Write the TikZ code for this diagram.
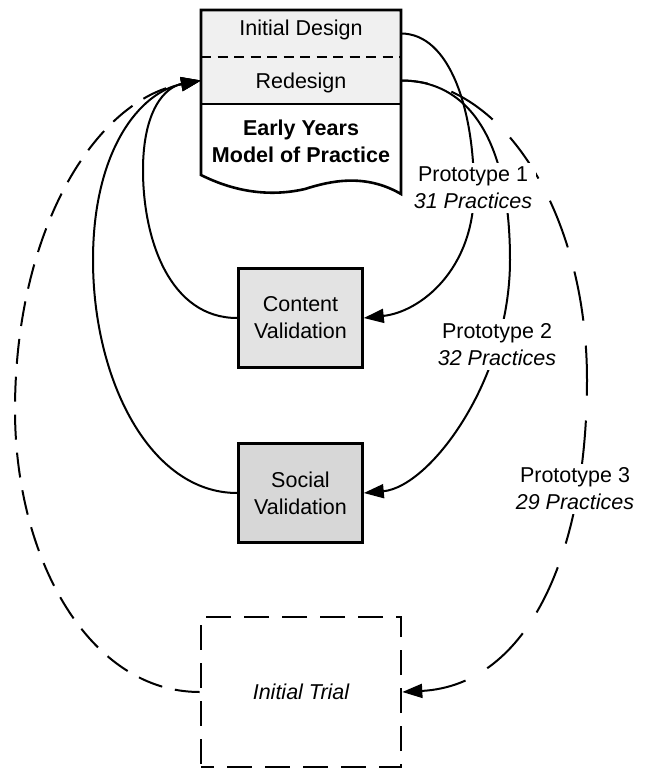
\documentclass[tikz,border=0pt]{standalone}
\usepackage{fontspec}
\setmainfont{Liberation Sans}
\usetikzlibrary{arrows.meta}
\definecolor{secfill}{HTML}{F0F0F0}
\definecolor{cvfill}{HTML}{E3E3E3}
\definecolor{svfill}{HTML}{D7D7D7}
\begin{document}
\begin{tikzpicture}[x=1pt,y=-1pt,
  every node/.style={font=\fontsize{21.5}{27}\selectfont},
  conn/.style={line width=2pt,-{Triangle[length=20pt,width=14pt]}},
  longdash/.style={dash pattern=on 50pt off 25pt},
  shortdash/.style={dash pattern=on 25pt off 13pt},
  secbox/.style={rectangle,fill=secfill,minimum width=200pt,minimum height=47pt,inner sep=0pt,outer sep=0pt},
  valbox/.style={rectangle,draw=black,line width=2.6pt,minimum width=124pt,minimum height=99pt,align=center,inner sep=0pt},
  plabel/.style={fill=white,align=center,inner sep=4pt},
  doctext/.style={anchor=base,inner sep=0pt}]
\useasboundingbox (0,0) rectangle (647,769);
% document shape
\node[secbox] (init) at (301,33.5) {};
\node[secbox] (redes) at (301,80.5) {};
\draw[line width=2.6pt,dash pattern=on 10pt off 6.5pt] (init.south west) -- (init.south east);
\draw[line width=2pt] (redes.south west) -- (redes.south east);
\node[doctext] (tInit) at (301,35) {Initial Design};
\node[doctext] (tRedes) at (301,88) {Redesign};
\node[doctext,font=\fontsize{21.5}{27}\selectfont\bfseries] (tEarly) at (301,135) {Early Years};
\node[doctext,font=\fontsize{21.5}{27}\selectfont\bfseries] (tModel) at (301,162) {Model of Practice};
% boxes
\node[valbox,fill=cvfill] (cv) at (300.5,318) {Content\\Validation};
\node[valbox,fill=svfill] (sv) at (300.5,493) {Social\\Validation};
\node[rectangle,draw=black,line width=2.6pt,shortdash,dash phase=12pt,minimum width=200pt,minimum height=150pt,inner sep=0pt,font=\fontsize{21.5}{27}\selectfont\itshape] (trial) at (301,692) {Initial Trial};
% connectors right
\draw[conn] (init.east) .. controls (450,33.5) and (474,110) .. (474,190) .. controls (474,270) and (420,312) .. (cv.east);
\draw[conn] (redes.east) .. controls (475,80.5) and (510,150) .. (510,260) .. controls (510,380) and (430,487) .. (sv.east);
\draw[conn,longdash,dash phase=23pt] (redes.east) .. controls (503,80.5) and (587,214) .. (587,380) .. controls (587,550) and (530,685) .. (trial.east);
% connectors left
\draw[conn] (cv.west) .. controls (170,318) and (143,240) .. (143,170) .. controls (143,110) and (165,87) .. (redes.west);
\draw[conn] (sv.west) .. controls (150,493) and (93,380) .. (93,260) .. controls (93,150) and (140,92) .. (redes.west);
\draw[conn,shortdash] (trial.west) .. controls (90,692) and (15,560) .. (15,410) .. controls (15,230) and (95,100) .. (redes.west);
% labels
\node[plabel] (p1) at (473,187.5) {Prototype 1\\\textit{31 Practices}};
\node[plabel] (p2) at (497,344.5) {Prototype 2\\\textit{32 Practices}};
\node[plabel] (p3) at (575,489) {Prototype 3\\\textit{29 Practices}};
% document outline
\draw[line width=2.6pt,line join=miter] (init.north west) -- (init.north east) -- (401,194) .. controls (365,173) and (330,181) .. (305,189) .. controls (270,197) and (235,192) .. (201,175) -- cycle;
\end{tikzpicture}
\end{document}
